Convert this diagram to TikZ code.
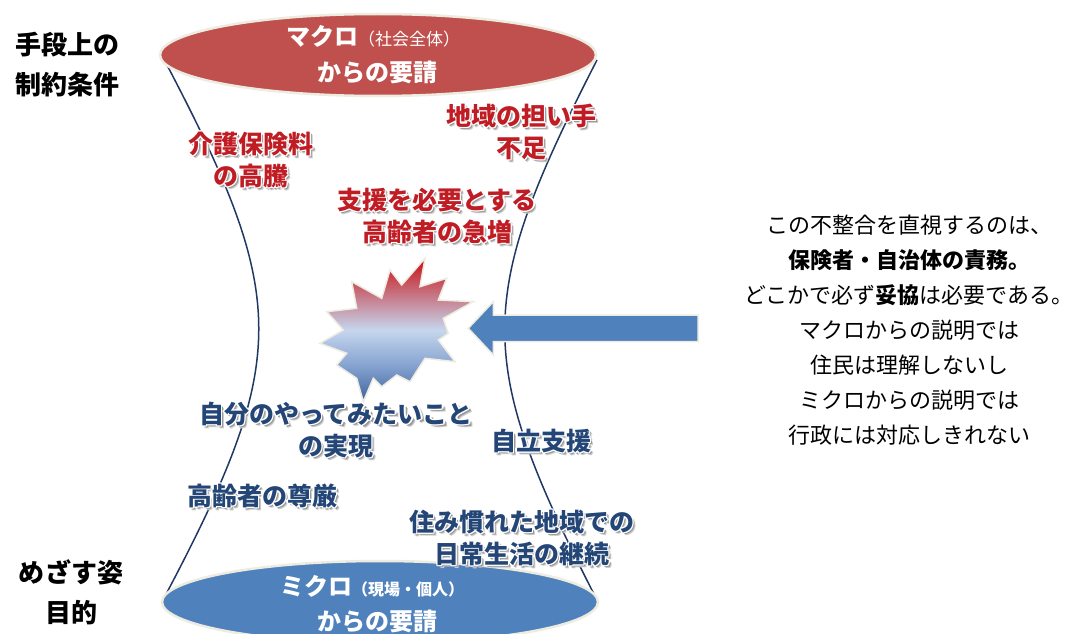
\documentclass[tikz,border=0pt]{standalone}
\usepackage{fontspec}
\setmainfont{Noto Sans CJK JP}
\usetikzlibrary{shapes.geometric}
\definecolor{redell}{RGB}{192,80,77}
\definecolor{blueell}{RGB}{79,129,189}
\definecolor{rim}{RGB}{238,236,225}
\definecolor{navy}{RGB}{31,56,100}
\definecolor{lblred}{RGB}{192,28,36}
\definecolor{lblblue}{RGB}{36,70,118}
\definecolor{burstred}{RGB}{200,16,20}
\definecolor{burstmid}{RGB}{198,214,238}
\definecolor{burstlow}{RGB}{130,160,206}
\definecolor{burstblue}{RGB}{62,98,156}
\pgfdeclareverticalshading{burstshade}{100bp}{color(0bp)=(burstblue); color(25bp)=(burstblue); color(37bp)=(burstlow); color(50bp)=(burstmid); color(75bp)=(burstred); color(100bp)=(burstred)}
\newcommand{\tb}[1]{\begin{tabular}{@{}c@{}}#1\end{tabular}}
\newcommand{\glowat}[3]{\makebox[0pt][l]{\hspace*{#1}\raisebox{#2}{#3}}}
\newcommand{\glow}[2]{%
  \glowat{3.2pt}{-3.2pt}{\textcolor{black!20}{\tb{#2}}}%
  \glowat{2.2pt}{-2.2pt}{\textcolor{black!40}{\tb{#2}}}%
  \glowat{1.4pt}{0pt}{\textcolor{white}{\tb{#2}}}%
  \glowat{-1.4pt}{0pt}{\textcolor{white}{\tb{#2}}}%
  \glowat{0pt}{1.4pt}{\textcolor{white}{\tb{#2}}}%
  \glowat{0pt}{-1.4pt}{\textcolor{white}{\tb{#2}}}%
  \glowat{1pt}{1pt}{\textcolor{white}{\tb{#2}}}%
  \glowat{-1pt}{1pt}{\textcolor{white}{\tb{#2}}}%
  \glowat{1pt}{-1pt}{\textcolor{white}{\tb{#2}}}%
  \glowat{-1pt}{-1pt}{\textcolor{white}{\tb{#2}}}%
  \textcolor{#1}{\tb{#2}}}
\begin{document}
\begin{tikzpicture}[x=1pt,y=-1pt,
  hourglass/.style={draw=navy,line width=1.5pt},
  ell/.style={ellipse,draw=rim,line width=2.5pt,minimum width=436pt,minimum height=82pt,inner sep=0pt},
  elltxt/.style={text=white,inner sep=0pt,font=\bfseries\fontsize{24}{28}\selectfont},
  lbl/.style={inner sep=0pt,font=\bfseries\fontsize{25}{32}\selectfont},
  side/.style={inner sep=0pt,align=center,font=\bfseries\fontsize{26}{40}\selectfont},
  note/.style={inner sep=0pt,align=center,font=\fontsize{22}{35}\selectfont},
  blockarrow/.style={fill=blueell,draw=rim,line width=1.5pt}]
\path[fill=white] (0,0) rectangle (1076,634);
\useasboundingbox (0,0) rectangle (1076,634);
% hourglass sides
\draw[hourglass] (167,65) .. controls (290,300) and (290,360) .. (163,600);
\draw[hourglass] (597,60) .. controls (474,300) and (474,360) .. (597,600);
% ellipses
\node[ell,fill=redell] (macro) at (378,55) {};
\node[ell,fill=blueell] (micro) at (380,602) {};
\node[elltxt] (macroA) at (373,36) {マクロ{\mdseries\fontsize{17}{20}\selectfont （社会全体）}};
\node[elltxt] (macroB) at (377,72) {からの要請};
\node[elltxt] (microA) at (372,586) {ミクロ{\fontsize{16}{20}\selectfont （現場・個人）}};
\node[elltxt] (microB) at (377,621) {からの要請};
% burst
\path[shading=burstshade,draw=rim,line width=1.5pt,line join=miter]
 (425,258.3) -- (420,286.7) -- (446.7,278.3) -- (438.3,300) -- (473.3,301.7) -- (443.3,318.3)
 -- (448.3,333.3) -- (438.3,340) -- (455,361.7) -- (425,358.3) -- (410,381.7) -- (396.7,375)
 -- (381.7,386.7) -- (373.3,378.3) -- (363.3,401.7) -- (356.7,378.3) -- (336.7,365) -- (346.7,353.3)
 -- (320,343.3) -- (343.3,330) -- (326.7,311.7) -- (356.7,308.3) -- (351.7,281.7) -- (381.7,298.3)
 -- (390,270) -- (401.7,285) -- cycle;
% block arrow
\path[blockarrow] (698,315) -- (493.3,315) -- (493.3,301.7) -- (468.3,328.3) -- (493.3,355)
 -- (493.3,341.7) -- (698,341.7) -- cycle;
% labels
\node[lbl] (kaigo) at (251,164) {\glow{lblred}{介護保険料\\の高騰}};
\node[lbl] (ninaite) at (521,136) {\glow{lblred}{地域の担い手\\不足}};
\node[lbl] (shien) at (437,220) {\glow{lblred}{支援を必要とする\\高齢者の急増}};
\node[lbl] (jibun) at (336,434) {\glow{lblblue}{自分のやってみたいこと\\の実現}};
\node[lbl] (jiritsu) at (541,445) {\glow{lblblue}{自立支援}};
\node[lbl] (songen) at (262,500) {\glow{lblblue}{高齢者の尊厳}};
\node[lbl] (sumi) at (522,542) {\glow{lblblue}{住み慣れた地域での\\日常生活の継続}};
% side headings
\node[side] (shudan) at (68,65) {手段上の\\制約条件};
\node[side] (mezasu) at (71,592) {めざす姿\\目的};
% note
\node[note] (note) at (909,330) {この不整合を直視するのは、\\\textbf{保険者・自治体の責務。}\\どこかで必ず\textbf{妥協}は必要である。\\マクロからの説明では\\住民は理解しないし\\ミクロからの説明では\\行政には対応しきれない};
\end{tikzpicture}
\end{document}
